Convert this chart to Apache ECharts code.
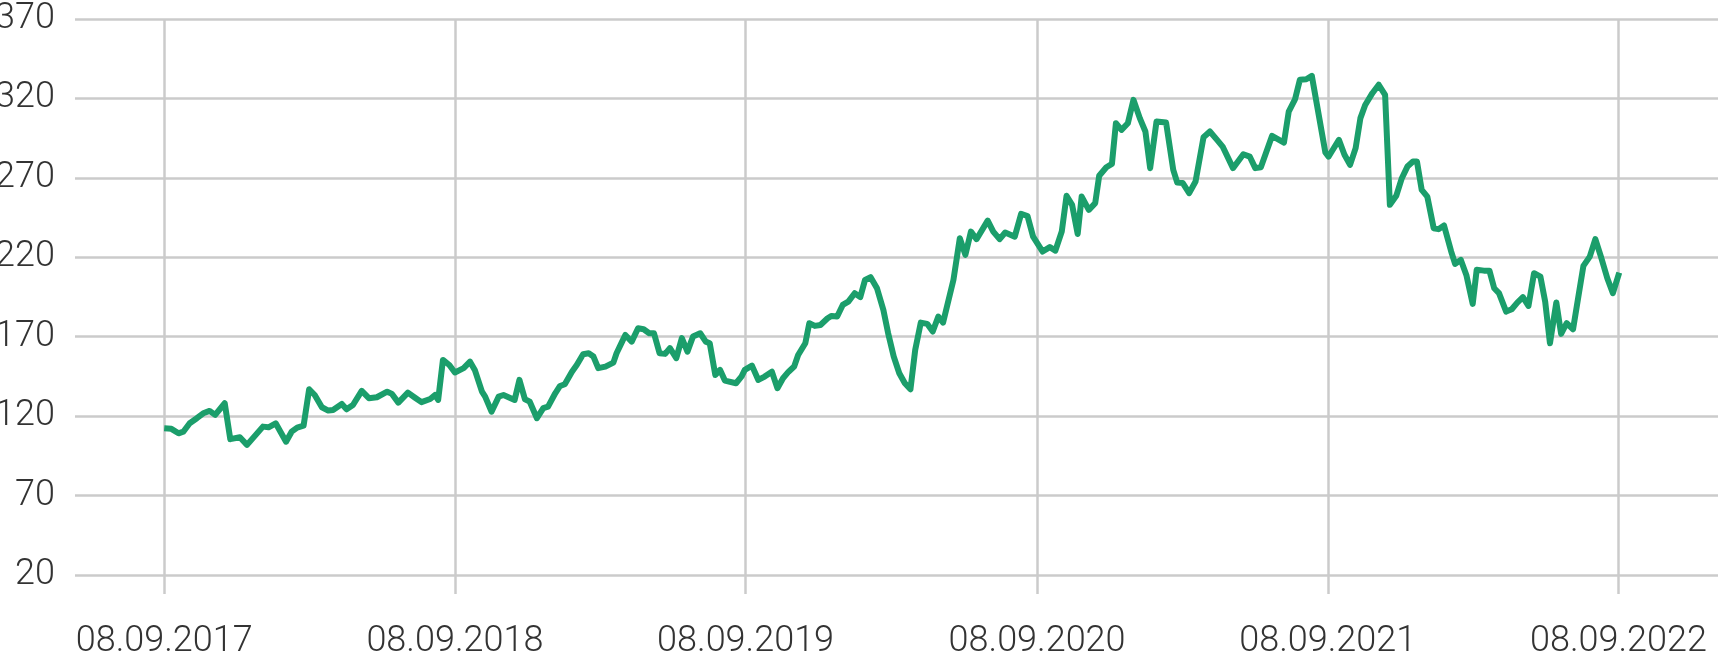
<!DOCTYPE html>
<html>
<head>
<meta charset="utf-8">
<script src="https://cdn.jsdelivr.net/npm/echarts@6/dist/echarts.min.js"></script>
<style>
html,body{margin:0;padding:0;background:#fff;}
#chart{width:1718px;height:658px;}
</style>
</head>
<body>
<div id="chart"></div>
<script>
// days since 08.09.2017
const days = [0,9,18,24,32,41,49,57,64,76,83,95,104,124,131,140,153,160,167,175,182,189,198,206,212,223,229,237,248,257,267,280,286,294,306,315,323,334,340,344,350,358,365,
376,384,390,399,403,411,420,426,440,446,453,459,468,476,482,491,497,503,512,518,526,533,539,545,554,564,568,575,579,587,595,602,609,615,622,629,635,643,650,657,664,673,680,685,692,698,704,718,725,
729,738,746,754,763,770,777,784,791,796,805,810,817,824,833,838,845,852,859,867,874,880,887,895,903,909,916,923,930,937,943,950,958,965,972,978,991,999,1006,1013,1020,1034,1041,1049,1056,1068,1076,1084,1091,
1103,1112,1119,1127,1133,1140,1147,1152,1161,1169,1174,1183,1190,1195,1202,1210,1217,1225,1232,1238,1246,1258,1267,1272,1279,1287,1295,1305,1313,1322,1329,1342,1355,1363,1370,1377,1391,1406,1412,1420,1426,1434,1441,
1458,1462,1466,1475,1482,1489,1496,1502,1508,1517,1525,1533,1539,1547,1554,1561,1568,1573,1579,1586,1594,1600,1607,1616,1621,1628,1635,1643,1648,1657,1664,1670,1676,1685,1692,1699,1706,1713,1720,1728,1734,1740,1748,1754,1761,1769,1776,1782,1790,1797,1804,1812,1819,1827];
const prices = [112.4,112,109.2,110.2,115.5,118.7,121.8,123.3,120.8,128.1,105.5,106.7,101.9,113.4,113,115.5,103.9,110.2,112.8,114,136.9,133.3,125.6,123.5,123.9,127.7,124.3,127,135.9,131.3,131.9,135.4,134,128.5,134.8,131.6,128.8,130.8,133.3,130.2,155.4,152.2,147.5,
150.2,154.3,149.1,135.4,132.3,122.8,132.3,133.3,130.2,142.8,130.6,129.1,118.7,125,126,134.4,139,140.1,148,152.2,159,159.6,157.5,150.2,151.2,153.7,159.6,166.9,171.1,166.9,175.3,174.7,172.2,172.2,159.6,159.2,162.8,156.5,169.1,160.6,170.1,172.2,166.9,165.9,145.9,149.1,142.4,140.7,145,
149.1,151.8,142.8,144.9,148,137.6,143.9,148,151.2,158.5,165.9,178.5,176.8,177.4,181.6,183.1,182.7,190,192.1,197.4,194.9,205.8,207.5,200.5,186.9,172.2,157.5,147,140.7,136.9,161.7,178.9,178.1,173.3,182.7,178.9,205.8,232,221.5,236.2,231.4,243.1,236.2,231.4,235.6,233,247.3,246,233,
223.6,226.4,224.2,236.2,258.7,253,234.7,258.2,249.8,254.1,271.3,276.7,278.8,304.4,300.2,304.4,319.1,307.6,299.2,276.1,305.5,304.8,275,267,266.7,260.4,267.7,295.6,299.2,293.9,289.7,276.1,284.9,283.4,276.1,276.7,296.4,292.2,311.7,319.6,331.7,332.1,334.2,
286,283.4,286.6,293.9,284.5,278.2,288.7,307.6,315.9,323.3,328.6,322.3,253,258.7,269.8,277.1,280.3,280.3,262.4,258.2,238.3,237.7,240,223.6,215.8,218.4,208.9,190.7,212.1,211.6,211.6,200.5,197.4,185.8,187.3,191.5,194.9,189.4,210,207.8,192.1,165.9,191.5,171.8,178.5,174.7,196.3,214.6,220.4,231.4,220.4,206.8,197.4,210.4];
const tickDays = [0,365,730,1096,1461,1826];
const tickLabels = ['08.09.2017','08.09.2018','08.09.2019','08.09.2020','08.09.2021','08.09.2022'];

const chart = echarts.init(document.getElementById('chart'), null, {renderer:'canvas'});
const gridColor = '#cbcbcb';
const fontFam = 'Roboto, "Liberation Sans", sans-serif';
chart.setOption({
  animation:false,
  backgroundColor:'#ffffff',
  grid:{left:75,right:0,top:19,bottom:83,containLabel:false,outerBoundsMode:'none'},
  xAxis:{
    type:'value',min:-112,max:1951,
    axisLine:{show:false},
    axisTick:{show:true,customValues:tickDays,length:19,lineStyle:{color:gridColor,width:2.5}},
    splitLine:{show:true,lineStyle:{color:gridColor,width:2.5}},
    axisLabel:{customValues:tickDays,margin:49,fontSize:36,fontFamily:fontFam,fontWeight:300,color:'#333',
      hideOverlap:false,
      formatter:function(v){const i=tickDays.indexOf(v);return i>=0?tickLabels[i]:'';}}
  },
  yAxis:{
    type:'value',min:20,max:370,interval:50,
    axisLine:{show:false},axisTick:{show:false},
    splitLine:{show:true,lineStyle:{color:gridColor,width:2.5}},
    axisLabel:{margin:20,fontSize:36,fontFamily:fontFam,fontWeight:300,color:'#333'}
  },
  series:[{
    type:'line',
    data:days.map((d,i)=>[d,prices[i]]),
    showSymbol:false,
    lineStyle:{color:'#1b9e6b',width:6,join:'round'},
    itemStyle:{color:'#1b9e6b'}
  }]
});
</script>
</body>
</html>
